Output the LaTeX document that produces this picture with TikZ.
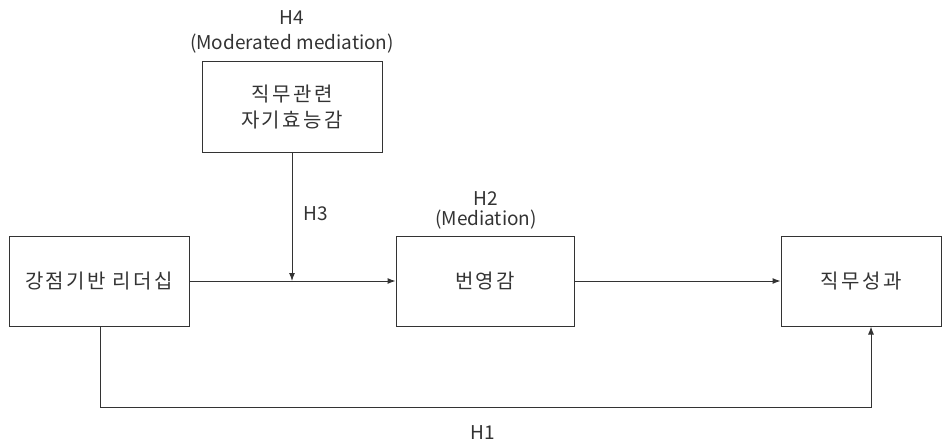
\documentclass[tikz,border=0pt]{standalone}
\usepackage{fontspec}
\setmainfont{Noto Sans CJK KR}
\newfontfamily\kr[LetterSpace=12]{Noto Sans CJK KR}
\usetikzlibrary{arrows.meta}
\definecolor{ink}{HTML}{333333}
\tikzset{
  box/.style={draw=ink, line width=1pt, minimum height=90pt, inner sep=0pt, font=\kr\fontsize{20}{26}\selectfont, text=ink, align=center},
  lab/.style={font=\fontsize{19}{22}\selectfont, text=ink, inner sep=0pt},
  conn/.style={draw=ink, line width=1pt, -{Latex[length=8pt,width=6pt]}}
}
\begin{document}
\begin{tikzpicture}[x=1pt,y=-1pt]
\useasboundingbox (0,0) rectangle (950,441);
\node[box, minimum width=180pt] (mod) at (292,107) {직무관련\\자기효능감};
\node[box, minimum width=180pt] (lead) at (99,281) {강점기반 리더십};
\node[box, minimum width=178pt] (flour) at (485,281) {번영감};
\node[box, minimum width=160pt] (perf) at (861,281) {직무성과};
\node[lab] (h4) at (292,18) {H4};
\node[lab] (h4b) at (292,44) {(Moderated mediation)};
\node[lab] (h3) at (316,214) {H3};
\node[lab] (h2) at (486,199) {H2};
\node[lab] (h2b) at (486,220) {(Mediation)};
\node[lab] (h1) at (483,433) {H1};
\coordinate (meet) at (mod.south |- lead.east);
\coordinate (c1) at (100,407);
\coordinate (c2) at (871,407);
\draw[conn] (lead.east) -- (flour.west);
\draw[conn] (mod.south) -- (meet);
\draw[conn] (flour.east) -- (perf.west);
\draw[conn] (lead.south -| c1) -- (c1) -- (c2) -- (perf.south -| c2);
\end{tikzpicture}
\end{document}
